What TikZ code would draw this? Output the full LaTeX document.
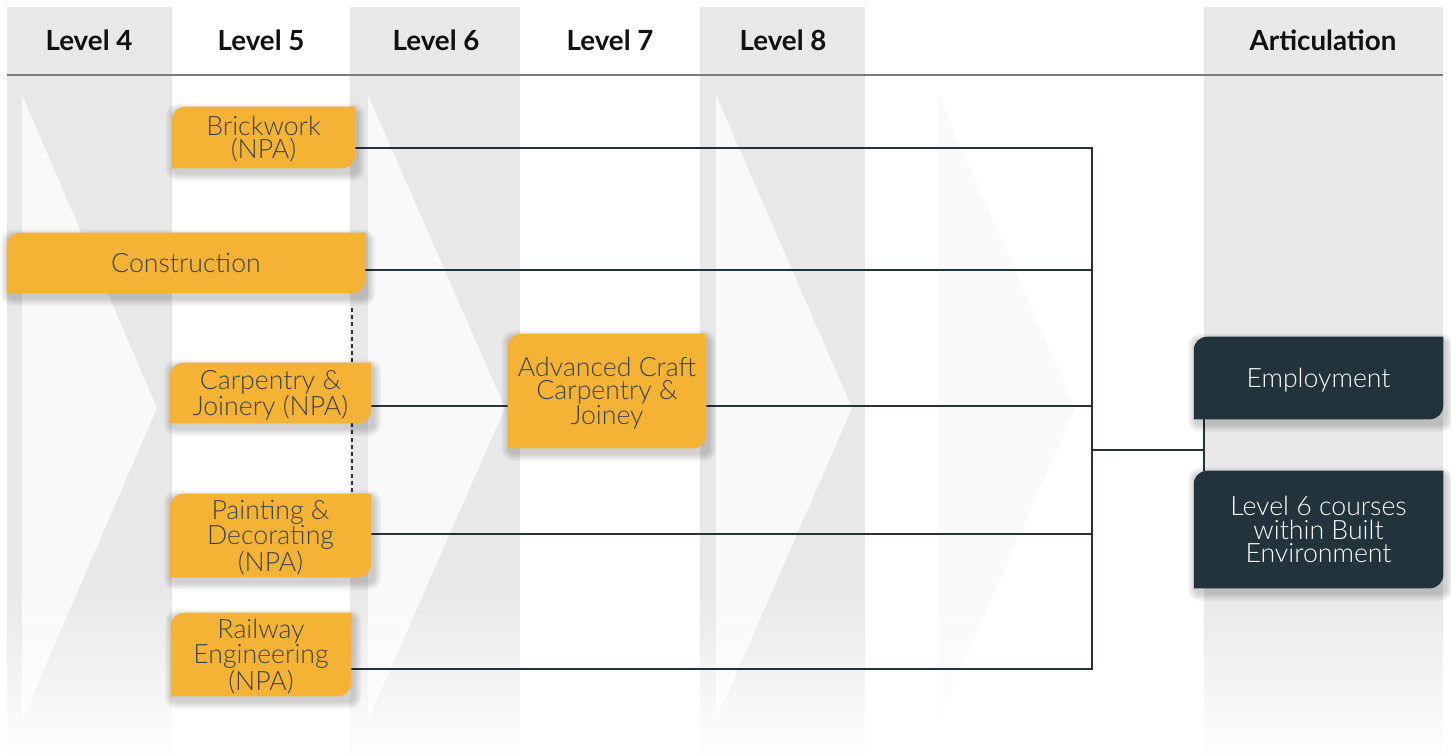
\documentclass[tikz,border=0pt]{standalone}
\usepackage{fontspec}
\setmainfont{Lato}
\newfontfamily\lightfont{Lato Light}
\definecolor{colgray}{HTML}{E8E8E8}
\definecolor{trigray}{HTML}{F9F9F9}
\definecolor{yel}{HTML}{F4B335}
\definecolor{dark}{HTML}{22333B}
\definecolor{txtc}{HTML}{3A4245}
\definecolor{hdrc}{HTML}{111111}
\definecolor{hline}{HTML}{7A7A7A}
\pgfdeclarelayer{bg}
\pgfdeclarelayer{lines}
\pgfdeclarelayer{boxes}
\pgfsetlayers{bg,lines,boxes,main}
\tikzset{
  hdr/.style={inner sep=0pt, text=hdrc, font=\bfseries\fontsize{20.8}{24}\selectfont},
  boxtext/.style={inner sep=0pt, align=center, text depth=0pt, font=\lightfont\fontsize{20}{17.5}\selectfont},
  ybox/.style={boxtext, text=txtc},
  dbox/.style={boxtext, text=white},
  bsize/.style 2 args={minimum width={(#1)*0.75pt}, minimum height={(#2)*0.75pt}},
  conn/.style={draw=dark, line width=1.4pt},
  dashline/.style={draw=dark, line width=1.4pt, dash pattern=on 3pt off 2.4pt},
  hdrline/.style={draw=hline, line width=1.5pt},
  tri/.style={fill=trigray},
  col/.style={fill=colgray}
}
\newcommand\tabshape[2]{%
  \foreach \k in {1,...,6}{%
    \fill[black, fill opacity=0.033, rounded corners={(\k+3)*1pt}]
      ([xshift={1.5pt-\k*1pt}, yshift={-3.5pt-\k*1pt}]#1.south west) rectangle
      ([xshift={1.5pt+\k*1pt}, yshift={-3.5pt+\k*1pt}]#1.north east);}
  \fill[#2] (#1.south west) -- ([yshift=-10pt]#1.north west)
    arc[start angle=180, end angle=90, radius=10pt] -- (#1.north east)
    -- ([yshift=10pt]#1.south east) arc[start angle=0, end angle=-90, radius=10pt] -- cycle;}
\begin{document}
\begin{tikzpicture}[x=0.75pt, y=-0.75pt]
\useasboundingbox (0,0) rectangle (1451,755);
% header texts
\node[hdr] (h4) at (89,40) {Level 4};
\node[hdr] (h5) at (261,40) {Level 5};
\node[hdr] (h6) at (436,40) {Level 6};
\node[hdr] (h7) at (610,40) {Level 7};
\node[hdr] (h8) at (783,40) {Level 8};
\node[hdr] (ha) at (1323,40) {Articulation};
% boxes (text)
\node[ybox, bsize={183}{61}] (brick) at (263.5,137.5) {Brickwork\\(NPA)};
\node[ybox, bsize={358}{60}] (cons) at (186,263) {Construction};
\node[ybox, bsize={201}{60}] (carp) at (270.5,393) {Carpentry \&\\Joinery (NPA)};
\node[ybox, bsize={201}{83}] (paint) at (270.5,535.5) {Painting \&\\Decorating\\(NPA)};
\node[ybox, bsize={180}{83}] (rail) at (261,654.5) {Railway\\Engineering\\(NPA)};
\node[ybox, bsize={198}{114}] (adv) at (607,391) {Advanced Craft\\Carpentry \&\\Joiney};
\node[dbox, bsize={249}{82}] (emp) at (1318.5,378) {Employment};
\node[dbox, bsize={249}{117}] (l6) at (1318.5,529.5) {Level 6 courses\\within Built\\Environment};
% background
\begin{pgfonlayer}{bg}
  \fill[white] (0,0) rectangle (1451,755);
  \fill[col] (7,7) rectangle (172,755);
  \fill[col] (350,7) rectangle (520,755);
  \fill[col] (700,7) rectangle (865,755);
  \fill[col] (1204,7) rectangle (1443,755);
  \fill[tri] (22,95) -- (157,408) -- (22,720) -- cycle;
  \fill[tri] (368,95) -- (505,408) -- (368,720) -- cycle;
  \fill[tri] (716,95) -- (852,408) -- (716,720) -- cycle;
  \fill[tri] (938,95) -- (1075,408) -- (938,720) -- cycle;
  \foreach \i in {0,...,29}{%
    \fill[white, fill opacity={(\i+1)/32}] (0,{590+\i*5.5}) rectangle (1451,{590+(\i+1)*5.5+0.3});}
  \draw[hdrline] (7,75) -- (1443,75);
\end{pgfonlayer}
% connectors
\coordinate (b1) at (1092,148);
\coordinate (b2) at (1092,270);
\coordinate (b3) at (1092,406);
\coordinate (b4) at (1092,534);
\coordinate (b5) at (1092,669);
\coordinate (bm) at (1092,450);
\coordinate (jx) at (1204,450);
\coordinate (d0) at (352,308);
\begin{pgfonlayer}{lines}
  \draw[conn] (brick.east |- b1) -- (b1);
  \draw[conn] (cons.east |- b2) -- (b2);
  \draw[conn] (carp.east |- b3) -- (adv.west |- b3);
  \draw[conn] (adv.east |- b3) -- (b3);
  \draw[conn] (paint.east |- b4) -- (b4);
  \draw[conn] (rail.east |- b5) -- (b5);
  \draw[conn] ([yshift=0.7pt]b1) -- ([yshift=-0.7pt]b5);
  \draw[conn] (bm) -- (jx);
  \draw[conn] (emp.south -| jx) -- (l6.north -| jx);
  \draw[dashline] (d0) -- (paint.north -| d0);
\end{pgfonlayer}
% box shapes
\begin{pgfonlayer}{boxes}
  \tabshape{brick}{yel}
  \tabshape{cons}{yel}
  \tabshape{carp}{yel}
  \tabshape{paint}{yel}
  \tabshape{rail}{yel}
  \tabshape{adv}{yel}
  \tabshape{emp}{dark}
  \tabshape{l6}{dark}
\end{pgfonlayer}
\end{tikzpicture}
\end{document}
